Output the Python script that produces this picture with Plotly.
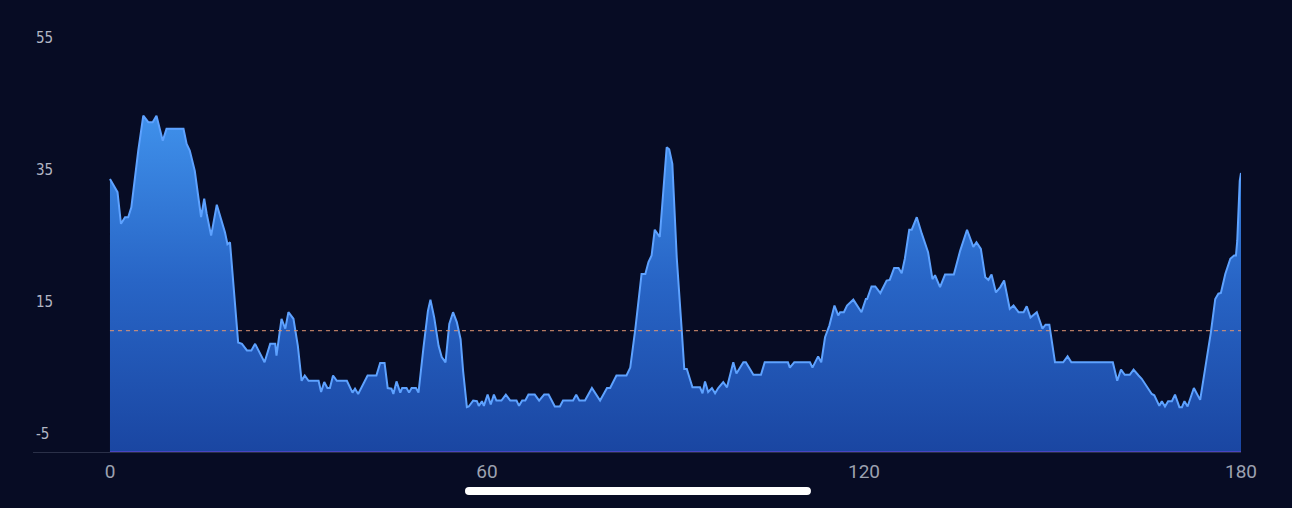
import plotly.graph_objects as go

# time axis and the plotted value
t = [0, 1.2, 1.75, 2.4, 2.9, 3.4, 4.5, 5.3, 6.1, 6.8, 7.4, 8.4, 9.0, 11.7, 12.2, 12.7, 13.5, 14.5, 15.0,
     15.4, 16.1, 17.0, 18.3, 18.7, 19.1, 19.9, 20.4, 21.0, 21.8, 22.5, 23.1, 24.6, 25.5, 26.3, 26.5, 27.3,
     27.9, 28.4, 29.2, 29.9, 30.5, 31.0, 31.6, 33.2, 33.6, 34.1, 34.6, 35.0, 35.5, 36.1, 37.7, 38.6, 39.0,
     39.5, 41.0, 42.4, 43.0, 43.7, 44.2, 44.8, 45.1, 45.6, 46.2, 46.5, 47.2, 47.6, 48.0, 48.7, 49.1, 49.9,
     50.6, 51.0, 51.6, 52.3, 52.8, 53.4, 54.0, 54.6, 55.2, 55.8, 56.2, 56.8, 57.1, 57.8, 58.4, 58.7, 59.2,
     59.5, 60.1, 60.6, 61.1, 61.5, 62.3, 63.0, 63.7, 64.7, 65.1, 65.6, 66.1, 66.6, 67.6, 68.3, 69.1, 69.8,
     70.8, 71.6, 72.1, 73.7, 74.2, 74.7, 75.6, 76.7, 78.0, 79.1, 79.6, 80.6, 82.2, 82.8, 83.6, 84.6, 85.2,
     85.7, 86.2, 86.7, 87.5, 88.6, 89.0, 89.5, 90.2, 91.0, 91.4, 91.8, 92.7, 93.9, 94.3, 94.7, 95.2, 95.8,
     96.3, 96.8, 97.6, 98.2, 99.2, 99.7, 100.8, 101.2, 102.4, 103.6, 104.2, 107.9, 108.2, 108.9, 111.4,
     111.8, 112.7, 113.2, 113.8, 114.5, 115.3, 115.9, 116.2, 116.8, 117.3, 118.3, 119.6, 120.3, 120.5,
     121.2, 121.8, 122.6, 123.6, 124.1, 124.8, 125.5, 126.0, 126.5, 127.2, 127.6, 128.4, 129.2, 130.2,
     130.9, 131.3, 132.1, 132.9, 134.3, 135.3, 136.4, 137.4, 137.9, 138.6, 139.3, 139.8, 140.3, 141.0,
     141.7, 142.3, 143.2, 143.8, 144.6, 145.4, 145.9, 146.5, 147.5, 148.4, 148.9, 149.5, 150.4, 151.7,
     152.4, 153.0, 159.6, 160.3, 160.9, 161.5, 162.3, 162.9, 163.7, 164.2, 165.8, 166.2, 167.0, 167.4,
     167.9, 168.4, 169.0, 169.5, 170.2, 170.6, 171.0, 171.5, 172.5, 173.5, 174.5, 175.2, 175.9, 176.4,
     176.8, 177.5, 178.3, 178.9, 179.2, 179.4, 179.8, 180]
vals = [33.6, 31.6, 26.8, 27.8, 27.8, 29.3, 37.9, 43.2, 42.2, 42.2, 43.2, 39.4, 41.2, 41.2, 38.9, 37.9, 34.8,
        27.8, 30.6, 28.3, 25.0, 29.7, 25.5, 23.7, 24.0, 15.2, 8.8, 8.6, 7.6, 7.6, 8.6, 5.8, 8.6, 8.6, 6.8,
        12.4, 10.9, 13.4, 12.4, 8.3, 3.0, 3.8, 3.0, 3.0, 1.3, 2.8, 1.9, 1.9, 3.8, 3.0, 3.0, 1.2, 1.8, 1.0,
        3.8, 3.8, 5.7, 5.7, 1.9, 1.8, 1.0, 2.9, 1.2, 1.9, 1.9, 1.2, 1.9, 1.9, 1.2, 8.1, 13.6, 15.3, 12.6,
        8.3, 6.6, 5.8, 11.6, 13.4, 11.9, 9.3, 4.5, -1.0, -0.9, 0.0, -0.1, -0.8, -0.1, -0.8, 0.9, -0.6, 0.9,
        0.0, 0.0, 0.9, 0.0, 0.0, -0.8, 0.0, 0.0, 0.9, 0.9, 0.0, 0.9, 0.9, -0.9, -0.9, 0.0, 0.0, 0.9, 0.0,
        0.0, 1.9, 0.0, 1.9, 1.9, 3.8, 3.8, 5.0, 10.8, 19.2, 19.2, 21.0, 22.0, 25.9, 24.8, 38.4, 38.1, 35.9,
        21.7, 10.6, 4.8, 4.8, 2.0, 2.0, 1.1, 2.9, 1.3, 1.9, 1.1, 1.9, 2.8, 2.0, 5.8, 4.1, 5.8, 5.8, 3.9,
        3.9, 5.8, 5.8, 5.0, 5.8, 5.8, 5.0, 6.7, 5.8, 9.6, 11.4, 14.4, 12.9, 13.4, 13.4, 14.4, 15.3, 13.4,
        15.4, 15.4, 17.3, 17.3, 16.3, 18.2, 18.3, 20.1, 20.1, 19.3, 21.5, 25.9, 25.9, 27.8, 25.3, 22.5,
        18.4, 19.0, 17.2, 19.1, 19.1, 22.7, 25.9, 23.3, 24.0, 23.0, 18.7, 18.3, 19.1, 16.4, 17.2, 18.2,
        13.9, 14.4, 13.4, 13.4, 14.3, 12.6, 13.4, 10.9, 11.5, 11.5, 5.8, 5.8, 6.7, 5.8, 5.8, 3.0, 4.7,
        3.9, 3.9, 4.7, 3.8, 3.3, 1.0, 0.8, -0.8, -0.1, -0.9, -0.1, -0.1, 0.9, -1.0, -1.0, -0.1, -0.9,
        1.9, 0.1, 6.1, 10.3, 15.4, 16.2, 16.3, 19.2, 21.5, 22.0, 22.0, 24.2, 33.3, 34.5]

avg_level = 10.6
y_ticks = [-5, 15, 35, 55]
y_labels = ["-5", "15", "35", "55"]
x_ticks = [0, 60, 120, 180]

y_floor = -7.8
y_top = 57.7

bg = "#070c24"

fig = go.Figure()

# floor for the area fill
fig.add_trace(go.Scatter(
    x=[t[0], t[-1]], y=[y_floor, y_floor], mode="lines",
    line=dict(color="#4a45c2", width=2), hoverinfo="skip", showlegend=False))

fig.add_trace(go.Scatter(
    x=t, y=vals, mode="lines", fill="tonexty",
    line=dict(color="#5ea2ff", width=2),
    fillgradient=dict(type="vertical", start=y_floor, stop=44,
                      colorscale=[[0, "#1a46a2"], [0.5, "#2865c6"], [1, "#4092ec"]]),
    showlegend=False))

fig.add_trace(go.Scatter(
    x=[t[0], t[-1]], y=[avg_level, avg_level], mode="lines",
    line=dict(color="rgba(225,150,115,0.8)", width=1.3, dash="4px,4px"),
    hoverinfo="skip", showlegend=False))

fig.update_layout(
    width=1292, height=508,
    margin=dict(l=33, r=51, t=20, b=56),
    paper_bgcolor=bg, plot_bgcolor=bg,
    xaxis=dict(range=[-12.25, 180], tickvals=x_ticks, showgrid=False, zeroline=False,
               showline=True, linecolor="#2a3048", linewidth=1, ticks="",
               tickfont=dict(family="Roboto, Liberation Sans, sans-serif", size=19, color="#9ca1b0"),
               ticklabelstandoff=2),
    yaxis=dict(range=[y_floor, y_top], tickvals=y_ticks, ticktext=y_labels,
               showgrid=False, zeroline=False,
               ticklabelposition="inside", ticks="",
               tickfont=dict(family="DejaVu Sans Condensed, Liberation Sans Narrow, sans-serif",
                             size=15, color="#b3b7c4", weight=500)),
    shapes=[
        dict(type="rect", xref="paper", yref="paper", x0=0.3609, x1=0.6407, y0=-0.0810, y1=-0.0995,
             fillcolor="white", line=dict(width=0)),
        dict(type="circle", xref="paper", yref="paper", x0=0.3576, x1=0.3642, y0=-0.0810, y1=-0.0995,
             fillcolor="white", line=dict(width=0)),
        dict(type="circle", xref="paper", yref="paper", x0=0.6374, x1=0.6440, y0=-0.0810, y1=-0.0995,
             fillcolor="white", line=dict(width=0)),
    ],
)

fig.write_html("out.html", config={"displayModeBar": False},
               post_script="document.body.style.margin='0';document.body.style.background='%s';" % bg)
